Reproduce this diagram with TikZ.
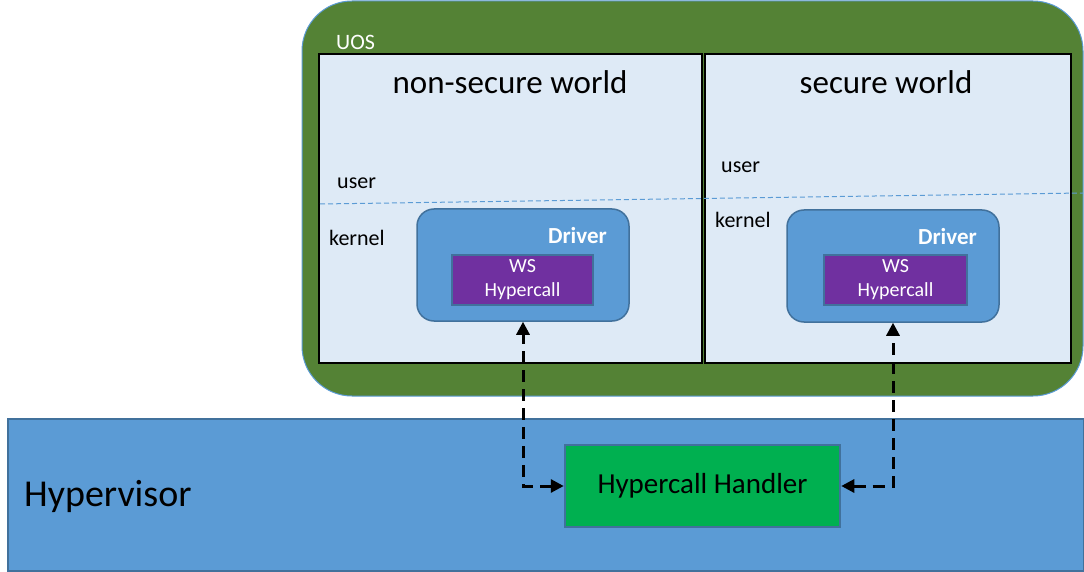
\documentclass[tikz,border=0pt]{standalone}
\usepackage{fontspec}
\setmainfont{Carlito}
\usetikzlibrary{arrows.meta}

\definecolor{uosgreen}{HTML}{548235}
\definecolor{worldfill}{HTML}{DEEAF6}
\definecolor{drvblue}{HTML}{5B9BD5}
\definecolor{edgeblue}{HTML}{41719C}
\definecolor{wspurple}{HTML}{7030A0}
\definecolor{hhgreen}{HTML}{00B050}

\tikzset{
  box/.style={draw, rectangle, inner sep=0pt},
  world/.style={box, draw=black, fill=worldfill, line width=1.2pt},
  drv/.style={box, draw=edgeblue, fill=drvblue, line width=1.5pt, rounded corners=17pt},
  wsbox/.style={box, draw=edgeblue, fill=wspurple, line width=2pt, text=white, align=center,
    font=\fontsize{20}{24}\selectfont},
  lbl/.style={anchor=west, inner sep=0pt, font=\fontsize{22}{26}\selectfont},
  drvlbl/.style={anchor=east, inner sep=0pt, text=white, font=\bfseries\fontsize{23}{27}\selectfont},
  conn/.style={line width=3pt, dash pattern=on 12pt off 7pt, {Triangle[length=13pt,width=13pt]}-{Triangle[length=13pt,width=13pt]}}
}

\begin{document}
\begin{tikzpicture}[x=1pt,y=-1pt]
  \useasboundingbox (0,0) rectangle (1084,572);

  % UOS
  \node[box, draw=drvblue, fill=uosgreen, line width=1pt, rounded corners=50pt,
    minimum width=781pt, minimum height=395pt] (uos) at (692.5,198.5) {};
  \node[lbl, text=white] (uoslbl) at (336,42) {UOS};

  \node[world, minimum width=383pt, minimum height=309pt] (nsw) at (510.5,208.5) {};
  \node[world, minimum width=366pt, minimum height=309pt] (sw) at (888,208.5) {};
  \node[font=\fontsize{33}{38}\selectfont] (nswlbl) at (510,82) {non-secure world};
  \node[font=\fontsize{33}{38}\selectfont] (swlbl) at (886,82) {secure world};

  % user / kernel
  \draw[drvblue, line width=1pt, dash pattern=on 5pt off 3pt] (320,204) -- (1083,193);
  \node[lbl] (user1) at (337,183) {user};
  \node[lbl] (kern1) at (329,238) {kernel};
  \node[lbl] (user2) at (721,167) {user};
  \node[lbl] (kern2) at (715,220) {kernel};

  % drivers
  \node[drv, minimum width=212pt, minimum height=112pt] (drv1) at (523,265) {};
  \node[drv, minimum width=212pt, minimum height=112pt] (drv2) at (893,266) {};
  \node[drvlbl] (d1lbl) at (607,236) {Driver};
  \node[drvlbl] (d2lbl) at (977,237) {Driver};
  \node[wsbox, minimum width=141pt, minimum height=50pt] (ws1) at (522.5,280) {WS\\Hypercall};
  \node[wsbox, minimum width=143pt, minimum height=50pt] (ws2) at (895.5,280) {WS\\Hypercall};

  % hypervisor
  \node[box, draw=edgeblue, fill=drvblue, line width=1.5pt,
    minimum width=1076pt, minimum height=152pt] (hv) at (546,495) {};
  \node[lbl, font=\fontsize{38}{42}\selectfont] (hvlbl) at (24,496) {Hypervisor};
  \node[box, draw=edgeblue, fill=hhgreen, line width=2.5pt, minimum width=275pt, minimum height=82pt,
    font=\fontsize{29}{34}\selectfont] (hh) at (702.5,486) {Hypercall Handler};

  \draw[conn] (hh.west) -| (drv1.south);
  \draw[conn] (hh.east) -| (drv2.south);
\end{tikzpicture}
\end{document}
